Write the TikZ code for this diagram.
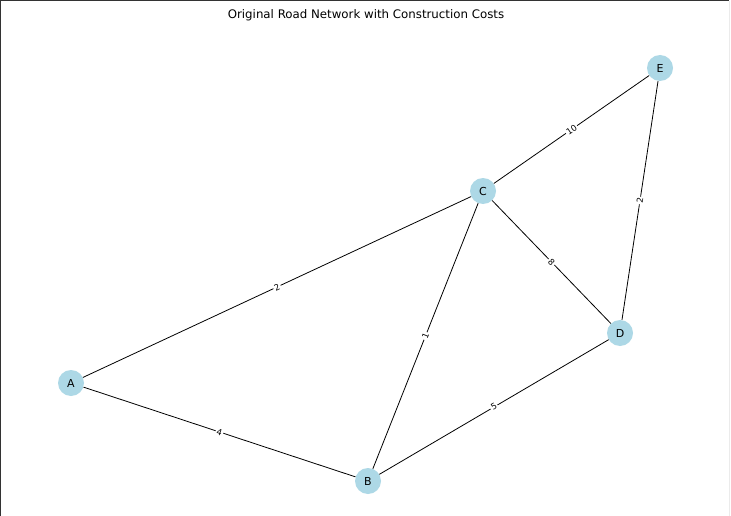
\documentclass[tikz,border=0pt]{standalone}
\usepackage{fontspec}
\setmainfont{DejaVu Sans}
\usetikzlibrary{arrows.meta}

\begin{document}
\begin{tikzpicture}[
        x=1pt, y=-1pt,
        town/.style={circle, fill={rgb,255:red,173;green,216;blue,230}, inner sep=0pt,
                     minimum size=26pt, font=\fontsize{11}{12}\selectfont},
        road/.style={draw, black, line width=0.8pt},
        cost/.style={fill=white, inner sep=1.2pt, sloped, font=\fontsize{8.5}{9}\selectfont}
    ]
        \useasboundingbox (0,0) rectangle (731,516);
        \fill[white] (0,0) rectangle (731,516);
        \draw[black!80, line width=2pt] (0,0) -- (729,0);
        \draw[black!80, line width=2pt] (0,0) -- (0,516);
        \draw[black!8, line width=1.5pt] (729.5,1) -- (729.5,516);

        \node[font=\fontsize{11.8}{13}\selectfont] (title) at (366,15) {Original Road Network with Construction Costs};

        \node[town] (A) at ( 71, 383) {A};
        \node[town] (B) at (368, 481) {B};
        \node[town] (C) at (483, 191) {C};
        \node[town] (D) at (620, 333) {D};
        \node[town] (E) at (660,  68) {E};

        \draw[road] (A) -- node[cost] {2}  (C);
        \draw[road] (A) -- node[cost] {4}  (B);
        \draw[road] (B) -- node[cost] {1}  (C);
        \draw[road] (B) -- node[cost] {5}  (D);
        \draw[road] (C) -- node[cost] {8}  (D);
        \draw[road] (C) -- node[cost] {10} (E);
        \draw[road] (D) -- node[cost] {2}  (E);
    \end{tikzpicture}
\end{document}
